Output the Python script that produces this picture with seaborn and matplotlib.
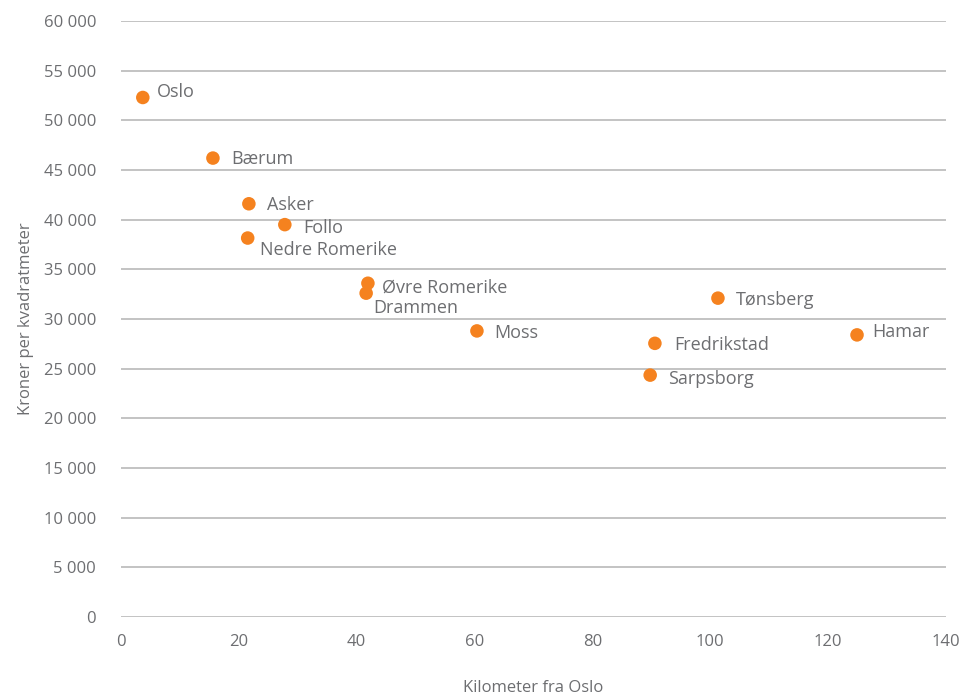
import matplotlib
matplotlib.use("Agg")
import matplotlib.pyplot as plt
import seaborn as sns
import pandas as pd

# Region, distance from Oslo (km) and price (NOK per square metre)
regions = ["Oslo", "Bærum", "Asker", "Follo", "Nedre Romerike", "Øvre Romerike",
           "Drammen", "Moss", "Tønsberg", "Fredrikstad", "Sarpsborg", "Hamar"]
km_from_oslo = [3.7, 15.6, 21.7, 27.8, 21.5, 41.9, 41.6, 60.4, 101.3, 90.6, 89.8, 124.9]
price_per_m2 = [52300, 46200, 41600, 39500, 38150, 33600, 32600, 28800, 32100, 27550, 24350, 28400]
y_ticks = [0, 5000, 10000, 15000, 20000, 25000, 30000, 35000, 40000, 45000, 50000, 55000, 60000]
x_ticks = [0, 20, 40, 60, 80, 100, 120, 140]

# label offsets in pixels (dx, dy)
label_offsets = {
    "Oslo": (14, 5), "Bærum": (18, -1), "Asker": (18, -1), "Follo": (18, -3),
    "Nedre Romerike": (12, -12), "Øvre Romerike": (14, -4), "Drammen": (7, -15),
    "Moss": (17, -2), "Tønsberg": (18, -2), "Fredrikstad": (19, -2),
    "Sarpsborg": (18, -4), "Hamar": (15, 3),
}

df = pd.DataFrame({"region": regions, "km": km_from_oslo, "price": price_per_m2})

sns.set_style("white")
plt.rcParams["font.family"] = ["Open Sans", "DejaVu Sans"]
text_color = "#6d6e71"
orange = "#f5821f"

fig = plt.figure(figsize=(9.76, 6.95), dpi=100)
ax = fig.add_axes([121 / 976, (695 - 617) / 695, (946 - 121) / 976, (617 - 21) / 695])

sns.scatterplot(data=df, x="km", y="price", ax=ax, color=orange, s=95,
                edgecolor="none", linewidth=0, zorder=3)

for name, x, y in zip(regions, km_from_oslo, price_per_m2):
    dx, dy = label_offsets[name]
    ax.annotate(name, (x, y), xytext=(dx, dy), textcoords="offset pixels",
                ha="left", va="center", fontsize=13, color=text_color, zorder=4)

ax.set_xlim(0, 140)
ax.set_ylim(0, 60000)
ax.set_xticks(x_ticks)
ax.set_yticks(y_ticks)
ax.set_yticklabels([f"{v:,}".replace(",", " ") for v in y_ticks])
ax.yaxis.grid(True, color="#b3b3b3", linewidth=1.1)
ax.xaxis.grid(False)
for side in ["top", "right", "left", "bottom"]:
    ax.spines[side].set_visible(False)
ax.tick_params(axis="both", length=0, labelsize=12, labelcolor=text_color)
ax.tick_params(axis="y", pad=18)
ax.tick_params(axis="x", pad=12)

ax.set_xlabel("Kilometer fra Oslo", fontsize=12, color=text_color, labelpad=22)
ax.set_ylabel("Kroner per kvadratmeter", fontsize=12, color=text_color, labelpad=7)

fig.savefig("out.png", dpi=100)
